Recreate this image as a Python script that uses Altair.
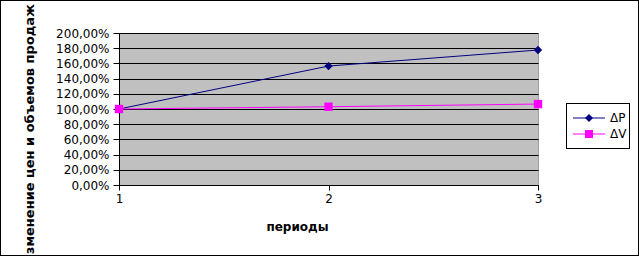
import altair as alt
import pandas as pd

periods = [1, 2, 3]
delta_p = [1.0, 1.565, 1.776]
delta_v = [1.0, 1.03, 1.065]
series_names = ["ΔP", "ΔV"]
marker_keys = ["P", "V"]
series_colors = ["#000080", "#FF00FF"]
series_shapes = ["diamond", "square"]
y_ticks = [0.0, 0.2, 0.4, 0.6, 0.8, 1.0, 1.2, 1.4, 1.6, 1.8, 2.0]

rows = []
for p, a, b in zip(periods, delta_p, delta_v):
    rows.append({"period": p, "series": series_names[0], "marker": marker_keys[0], "value": a})
    rows.append({"period": p, "series": series_names[1], "marker": marker_keys[1], "value": b})
df = pd.DataFrame(rows)

FONT = "DejaVu Sans"

x_enc = alt.X(
    "period:O",
    scale=alt.Scale(type="point", padding=0, domain=periods),
    axis=alt.Axis(
        title="периоды", grid=False, labelAngle=0,
        domainColor="black", tickColor="black", tickSize=5,
        labelColor="black", labelFont=FONT, labelFontSize=12, labelPadding=3,
        labelOverlap=False,
        titleFont=FONT, titleFontSize=12, titleFontWeight="bold", titleColor="black",
        titleX=178, titleY=41, titleBaseline="middle", titleAnchor="middle",
    ),
)
y_enc = alt.Y(
    "value:Q",
    scale=alt.Scale(domain=[0, 2], nice=False),
    axis=alt.Axis(
        values=y_ticks,
        labelExpr="replace(format(datum.value, '.2%'), '.', ',')",
        title="Изменение цен и объемов продаж",
        grid=True, gridColor="black", gridOpacity=1, gridWidth=1,
        domainColor="black", tickColor="black", tickSize=6,
        labelColor="black", labelFont=FONT, labelFontSize=12, labelPadding=4,
        labelOverlap=False,
        titleFont=FONT, titleFontSize=13, titleFontWeight="bold", titleColor="black",
        titleX=-90, titleY=101, titleBaseline="middle", titleAnchor="middle",
    ),
)

legend_common = dict(
    orient="none", title=None, padding=7, rowPadding=4,
    labelFont=FONT, labelFontSize=12, labelColor="black",
    symbolSize=64, legendX=457, legendY=72, labelOffset=15,
)

lines = alt.Chart(df).mark_line(strokeWidth=1).encode(
    x=x_enc,
    y=y_enc,
    stroke=alt.Stroke(
        "series:N",
        scale=alt.Scale(domain=series_names, range=series_colors),
        legend=alt.Legend(
            symbolType="M-4,0H4", symbolStrokeWidth=1,
            **legend_common,
        ),
    ),
)

shape_legend = alt.Legend(
    labelExpr="''", symbolStrokeWidth=0, symbolOpacity=1,
    **legend_common,
)
points = alt.Chart(df).mark_point(filled=True, size=70, opacity=1).encode(
    x=x_enc,
    y=y_enc,
    color=alt.Color(
        "marker:N",
        scale=alt.Scale(domain=marker_keys, range=series_colors),
        legend=shape_legend,
    ),
    shape=alt.Shape(
        "marker:N",
        scale=alt.Scale(domain=marker_keys, range=series_shapes),
        legend=shape_legend,
    ),
)

frame = alt.Chart(df).mark_rect(filled=False, stroke="black", strokeWidth=1).encode(
    x=alt.value(-118.5), x2=alt.value(519.5),
    y=alt.value(-32.5), y2=alt.value(222.5),
)
legend_box = alt.Chart(df).mark_rect(filled=False, stroke="black", strokeWidth=1).encode(
    x=alt.value(447.5), x2=alt.value(510.5),
    y=alt.value(70.5), y2=alt.value(115.5),
)

chart = alt.layer(lines, points, frame, legend_box).properties(
    width=419, height=152,
    autosize=alt.AutoSizeParams(type="none"),
    padding={"left": 119, "top": 33, "right": 101, "bottom": 71},
    background="white",
).configure_view(
    fill="#C0C0C0", stroke="#A0A0A0", strokeWidth=1,
)

chart.save("out.html", embed_options={"renderer": "svg", "actions": False})
